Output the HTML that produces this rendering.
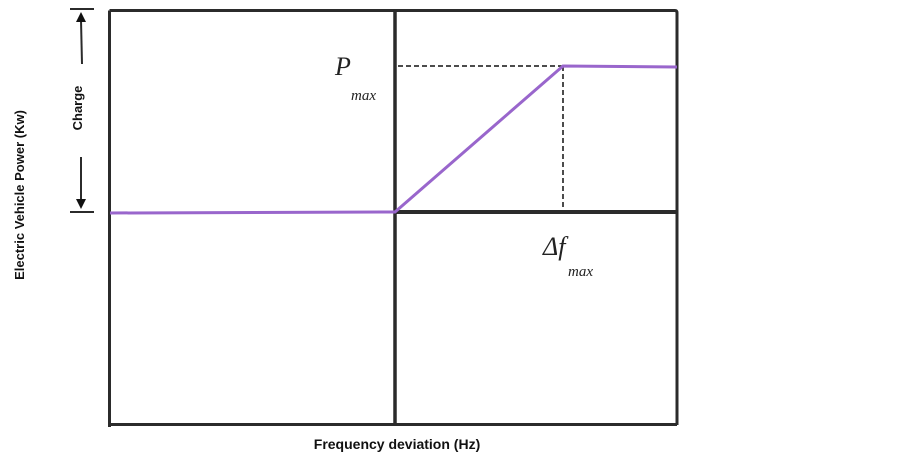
<!DOCTYPE html>
<html><head><style>
body{margin:0;background:#fff;width:903px;height:460px;overflow:hidden}
</style></head><body>
<svg width="903" height="460" xmlns="http://www.w3.org/2000/svg">
<g stroke="#2b2b2b" fill="none">
<path d="M109.5 10.5 H675 Q677 10.5 677 13 V425 M109.5 10.5 V427 M110 424.5 H677" stroke-width="3"/>
<line x1="395" y1="10" x2="395" y2="425" stroke-width="3.5"/>
<line x1="395" y1="212" x2="677" y2="212" stroke-width="4"/>
<line x1="70" y1="9" x2="94" y2="9" stroke-width="2"/>
<line x1="70" y1="212" x2="94" y2="212" stroke-width="2"/>
<line x1="82" y1="64" x2="81" y2="20" stroke-width="2"/>
<line x1="81" y1="157" x2="81" y2="200" stroke-width="2"/>
<path d="M398 66 H563 M563 66 V208" stroke="#111" stroke-width="1.5" stroke-dasharray="5,3"/>
</g>
<path d="M76 22 L81 12 L86 22 Z M76 199 L81 209 L86 199 Z" fill="#111"/>
<path d="M110 213 L395 212 L563 66 L677 67" stroke="#9966cc" stroke-width="3" fill="none"/>
<g font-family="Liberation Sans, sans-serif" font-weight="bold" font-size="13" fill="#111">
<text transform="translate(82,108) rotate(-90)" text-anchor="middle">Charge</text>
<text transform="translate(24,195) rotate(-90)" text-anchor="middle">Electric Vehicle Power (Kw)</text>
<text x="397" y="449" text-anchor="middle" font-size="14">Frequency deviation (Hz)</text>
</g>
<g font-family="Liberation Serif, serif" font-style="italic" fill="#222">
<text x="335" y="75" font-size="26">P</text>
<text x="351" y="100" font-size="15">max</text>
<text x="543" y="255" font-size="26">Δf</text>
<text x="568" y="276" font-size="15">max</text>
</g>
</svg>
</body></html>
